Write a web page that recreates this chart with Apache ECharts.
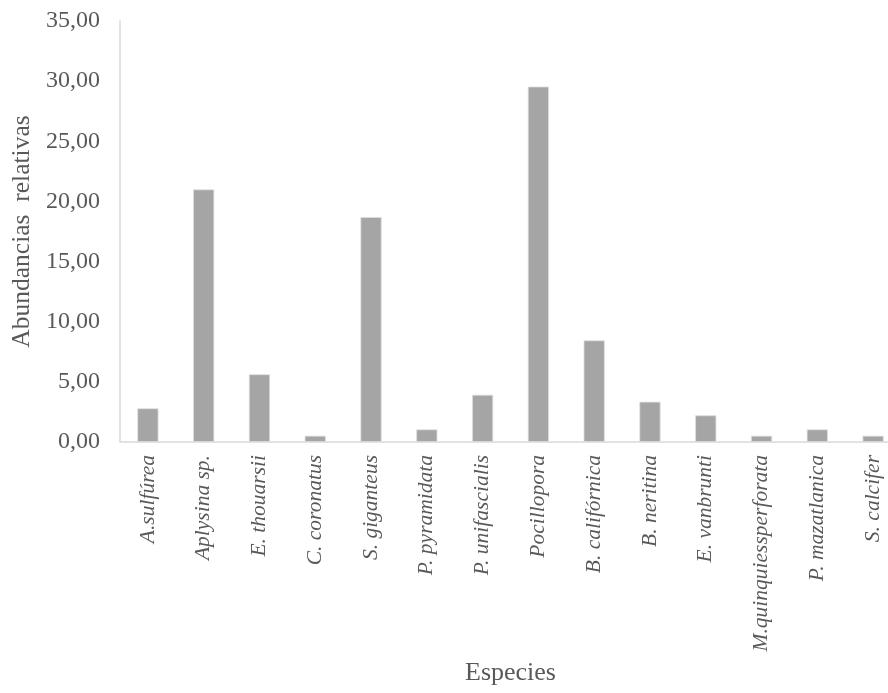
<!DOCTYPE html>
<html>
<head>
<meta charset="utf-8">
<script src="https://cdn.jsdelivr.net/npm/echarts@6/dist/echarts.min.js"></script>
<style>html,body{margin:0;padding:0;background:#fff}#c{width:888px;height:693px}</style>
</head>
<body>
<div id="c"></div>
<script>
const categories = ['A.sulfúrea','Aplysina sp.','E. thouarsii','C. coronatus','S. giganteus','P. pyramidata','P. unifascialis','Pocillopora','B. califórnica','B. neritina','E. vanbrunti','M.quinquiessperforata','P. mazatlanica','S. calcifer'];
const values = [2.80, 21.0, 5.63, 0.52, 18.7, 1.05, 3.93, 29.55, 8.45, 3.35, 2.22, 0.52, 1.05, 0.52];
const yTicks = {min: 0, max: 35, interval: 5};

const font = '"Liberation Serif", "Times New Roman", serif';
const txt = '#595959';
const chart = echarts.init(document.getElementById('c'), null, {renderer: 'canvas'});
chart.setOption({
  animation: false,
  backgroundColor: '#ffffff',
  grid: {left: 120, width: 781, top: 21, height: 421, containLabel: false, outerBoundsMode: 'none'},
  xAxis: {
    type: 'category',
    data: categories,
    name: 'Especies',
    nameLocation: 'middle',
    nameGap: 218,
    nameTextStyle: {fontFamily: font, fontSize: 26, color: txt},
    axisLine: {show: true, lineStyle: {color: '#d9d9d9', width: 1.5}},
    axisTick: {show: false},
    axisLabel: {interval: 0, rotate: 90, margin: 13, fontFamily: font, fontStyle: 'italic', fontSize: 21.5, color: txt}
  },
  yAxis: {
    type: 'value',
    min: yTicks.min, max: yTicks.max, interval: yTicks.interval,
    name: 'Abundancias  relativas',
    nameLocation: 'middle',
    nameGap: 82,
    nameTextStyle: {fontFamily: font, fontSize: 25.5, color: txt},
    axisLine: {show: true, lineStyle: {color: '#d9d9d9', width: 1.5}},
    axisTick: {show: false},
    splitLine: {show: false},
    axisLabel: {margin: 20, fontFamily: font, fontSize: 24, color: txt,
      formatter: v => v.toFixed(2).replace('.', ',')}
  },
  series: [{
    type: 'bar',
    data: values,
    barWidth: '38%',
    itemStyle: {color: '#a5a5a5', borderColor: '#e0e0e0', borderWidth: 0.8}
  }]
});
</script>
</body>
</html>
